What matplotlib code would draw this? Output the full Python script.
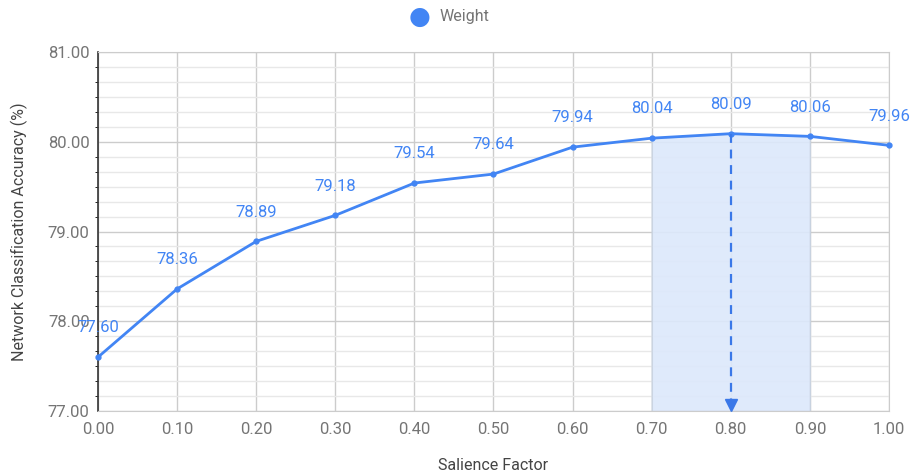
import matplotlib.pyplot as plt
from matplotlib.ticker import MultipleLocator
import numpy as np

# dane
salience = [0.0, 0.1, 0.2, 0.3, 0.4, 0.5, 0.6, 0.7, 0.8, 0.9, 1.0]
weight = [77.60, 78.36, 78.89, 79.18, 79.54, 79.64, 79.94, 80.04, 80.09, 80.06, 79.96]
best_x = 0.8
band = (0.7, 0.9)

blue = '#4285F4'
grey_txt = '#757575'
plt.rcParams['font.family'] = ['Roboto', 'DejaVu Sans']

fig = plt.figure(figsize=(9.2, 4.74), dpi=100)
ax = fig.add_axes([98/920, 1-411/474, (889-98)/920, (411-52)/474])

ax.set_xlim(0, 1)
ax.set_ylim(77, 81)
ax.xaxis.set_major_locator(MultipleLocator(0.1))
ax.yaxis.set_major_locator(MultipleLocator(1))
ax.yaxis.set_minor_locator(MultipleLocator(1/6))
ax.grid(which='major', color='#cccccc', lw=1)
ax.grid(which='minor', axis='y', color='#e8e8e8', lw=1)
ax.set_axisbelow(True)
ax.set_xticks(salience)
ax.set_xticklabels(['%.2f' % v for v in salience])
ax.set_yticks([77, 78, 79, 80, 81])
ax.set_yticklabels(['%.2f' % v for v in [77, 78, 79, 80, 81]])
ax.tick_params(length=0, colors=grey_txt, labelsize=12, pad=8)
ax.tick_params(axis='y', pad=6)

for s in ['top', 'right', 'bottom']:
    ax.spines[s].set_color('#cccccc')
ax.spines['left'].set_color('#333333')
ax.spines['left'].set_linewidth(1.2)

# zacieniony obszar pod krzywa
xs = np.array(salience)
ys = np.array(weight)
m = (xs >= band[0] - 1e-9) & (xs <= band[1] + 1e-9)
ax.fill_between(xs[m], 77, ys[m], color='#dce8fb', alpha=0.9, zorder=1.5,
                edgecolor='#c8d2e0', lw=1)

ax.plot(salience, weight, color=blue, lw=2, marker='o', ms=3.5, zorder=3,
        clip_on=False, label='Weight')

# strzalka w dol w punkcie maksimum
by = weight[salience.index(best_x)]
ax.plot([best_x, best_x], [by, 77.12], color='#3a78e8', lw=1.6, ls=(0, (4, 3)), zorder=3)
ax.plot(best_x, 77.07, marker='v', color='#3a78e8', ms=8, zorder=3, clip_on=False)

for x, y in zip(salience, weight):
    ax.annotate('%.2f' % y, (x, y), xytext=(0, 21), textcoords='offset points',
                ha='center', va='center', color=blue, fontsize=12, zorder=4)

ax.set_xlabel('Salience Factor', color='#444444', fontsize=11.5, labelpad=15)
ax.set_ylabel('Network Classification Accuracy (%)', color='#444444', fontsize=11.5, labelpad=14)

# legenda
fig.text(420/920, 1-17/474, '\u25CF', color=blue, fontsize=18, ha='center', va='center')
fig.text(440/920, 1-17/474, 'Weight', color=grey_txt, fontsize=11.5, ha='left', va='center')

fig.savefig('out.png', dpi=100)
